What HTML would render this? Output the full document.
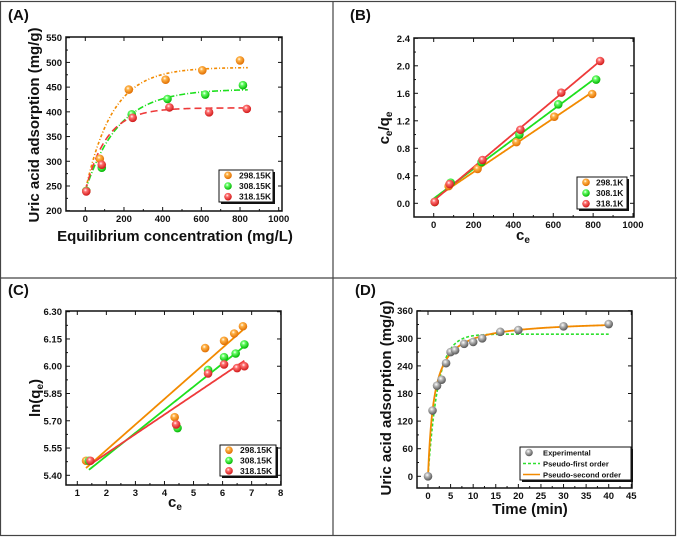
<!DOCTYPE html>
<html><head><meta charset="utf-8"><style>
body{margin:0;background:#fff;}
svg{display:block;font-family:"Liberation Sans",Arial,sans-serif;}
</style></head><body>
<svg id="fig" width="677" height="537" viewBox="0 0 677 537" xmlns="http://www.w3.org/2000/svg">
<defs>
<radialGradient id="gO" cx="0.4" cy="0.35" r="0.65"><stop offset="0" stop-color="#fff"/><stop offset="0.3" stop-color="#ffb347"/><stop offset="1" stop-color="#e06d00"/></radialGradient>
<radialGradient id="gG" cx="0.4" cy="0.35" r="0.65"><stop offset="0" stop-color="#fff"/><stop offset="0.3" stop-color="#66ff66"/><stop offset="1" stop-color="#00b400"/></radialGradient>
<radialGradient id="gR" cx="0.4" cy="0.35" r="0.65"><stop offset="0" stop-color="#fff"/><stop offset="0.3" stop-color="#ff7070"/><stop offset="1" stop-color="#d01818"/></radialGradient>
<radialGradient id="gS" cx="0.4" cy="0.35" r="0.65"><stop offset="0" stop-color="#fff"/><stop offset="0.35" stop-color="#b8b8b8"/><stop offset="1" stop-color="#555"/></radialGradient>
</defs>
<rect x="0.5" y="1.5" width="675" height="534" fill="none" stroke="#444" stroke-width="1.2"/>
<line x1="333" y1="1" x2="333" y2="536" stroke="#444" stroke-width="1.2"/>
<line x1="0" y1="278" x2="677" y2="278" stroke="#444" stroke-width="1.2"/>
</svg>
<script>
// Panel A data
const aX_o=[5,75,225,415,605,800], aY_o=[240,305,445,465,484,504];
const aX_g=[5,85,240,425,620,815], aY_g=[240,287,395,426,435,454];
const aX_r=[5,85,245,435,640,835], aY_r=[239,293,388,409,399,406];
const aFitQmax=[490,446,408], aFitTau=[140,170,110], aFitQ0=[240,240,240];
const aXTicks=[0,200,400,600,800,1000], aYTicks=[200,250,300,350,400,450,500,550];
const aLegend=["298.15K","308.15K","318.15K"];
// Panel B data
const bX_o=[5,75,220,415,605,795], bY_o=[0.02,0.25,0.50,0.89,1.26,1.59];
const bX_g=[5,85,240,430,625,815], bY_g=[0.02,0.30,0.60,1.00,1.44,1.80];
const bX_r=[5,80,245,435,640,835], bY_r=[0.02,0.28,0.63,1.07,1.61,2.07];
const bXTicks=[0,200,400,600,800,1000], bYTicks=[0.0,0.4,0.8,1.2,1.6,2.0,2.4];
const bLegend=["298.1K","308.1K","318.1K"];
// Panel C data
const cX_o=[1.3,4.35,5.4,6.05,6.4,6.7], cY_o=[5.48,5.72,6.10,6.14,6.18,6.22];
const cX_g=[1.4,4.45,5.5,6.05,6.45,6.75], cY_g=[5.48,5.66,5.98,6.05,6.07,6.12];
const cX_r=[1.45,4.4,5.5,6.05,6.5,6.75], cY_r=[5.48,5.68,5.96,6.01,5.99,6.00];
const cLineEnds_o=[5.44,6.20], cLineEnds_g=[5.43,6.11], cLineEnds_r=[5.46,6.03];
const cXTicks=[1,2,3,4,5,6,7,8], cYTicks=[5.40,5.55,5.70,5.85,6.00,6.15,6.30];
const cLegend=["298.15K","308.15K","318.15K"];
// Panel D data
const dT=[0,1,2,3,4,5,6,8,10,12,16,20,30,40];
const dQ=[0,143,197,210,246,270,274,288,292,300,314,318,326,331];
const dPFO=[309,0.45];   // qe, k1
const dPSO=[340,0.002135]; // qe, k2
const dXTicks=[0,5,10,15,20,25,30,35,40,45], dYTicks=[0,60,120,180,240,300,360];
const dLegend=["Experimental","Pseudo-first order","Pseudo-second order"];

const NS="http://www.w3.org/2000/svg";
const svg=document.getElementById('fig');
function el(tag,attrs,parent){const e=document.createElementNS(NS,tag);for(const k in attrs)e.setAttribute(k,attrs[k]);(parent||svg).appendChild(e);return e;}
function axis(p){
  const sx=v=>p.x0px+(v-p.x0v)*(p.x1px-p.x0px)/(p.x1v-p.x0v);
  const sy=v=>p.y0px-(v-p.y0v)*(p.y0px-p.y1px)/(p.y1v-p.y0v);
  return {sx,sy};
}
function drawFrame(p,ax,xt,yt,fmtX,fmtY,name){
  const g=el('g',{});
  
  
  const b=el('rect',{x:p.L,y:p.T,width:p.R-p.L,height:p.B-p.T,fill:'none',stroke:'#111','stroke-width':1.5},g);
  
  
  xt.forEach((v,i)=>{const x=ax.sx(v);
    el('line',{x1:x,y1:p.B,x2:x,y2:p.B-4,stroke:'#111','stroke-width':1},g);
    el('line',{x1:x,y1:p.T,x2:x,y2:p.T+4,stroke:'#111','stroke-width':1},g);
    if(i<xt.length-1){const xm=ax.sx((v+xt[i+1])/2);el('line',{x1:xm,y1:p.B,x2:xm,y2:p.B-2,stroke:'#111'},g);}
    const t=el('text',{x:x,y:p.B+11,'text-anchor':'middle','font-size':9.5,'font-weight':'bold',fill:'#111'},g);
    t.textContent=fmtX(v);
    
    
  });
  yt.forEach((v,i)=>{const y=ax.sy(v);
    el('line',{x1:p.L,y1:y,x2:p.L+4,y2:y,stroke:'#111','stroke-width':1},g);
    el('line',{x1:p.R,y1:y,x2:p.R-4,y2:y,stroke:'#111','stroke-width':1},g);
    if(i<yt.length-1){const ym=ax.sy((v+yt[i+1])/2);el('line',{x1:p.L,y1:ym,x2:p.L+2,y2:ym,stroke:'#111'},g);}
    const t=el('text',{x:p.L-4,y:y+3.5,'text-anchor':'end','font-size':9.5,'font-weight':'bold',fill:'#111'},g);
    t.textContent=fmtY(v);
    
    
  });
}
function pts(xs,ys,ax,fill,name,r){
  xs.forEach((x,i)=>{const c=el('circle',{cx:ax.sx(x),cy:ax.sy(ys[i]),r:r||4.3,fill:fill});
    
    });
}
function curve(f,x0,x1,ax,stroke,dash,name,w){
  let d='';for(let i=0;i<=200;i++){const x=x0+(x1-x0)*i/200;d+=(i?'L':'M')+ax.sx(x).toFixed(2)+','+ax.sy(f(x)).toFixed(2);}
  const p=el('path',{d:d,fill:'none',stroke:stroke,'stroke-width':w||1.6,'stroke-dasharray':dash||'none'});
  
  
}
function fit(xs,ys){const n=xs.length;let sx=0,sy=0,sxx=0,sxy=0;for(let i=0;i<n;i++){sx+=xs[i];sy+=ys[i];sxx+=xs[i]*xs[i];sxy+=xs[i]*ys[i];}
  const m=(n*sxy-sx*sy)/(n*sxx-sx*sx);return [m,(sy-m*sx)/n];}
function text(x,y,s,size,name,opts){const o=Object.assign({x:x,y:y,'font-size':size,'font-weight':'bold',fill:'#111'},opts||{});
  const t=el('text',o);t.innerHTML=s;
  
  return t;}
function legend(x,y,w,h,items,name,fs){
  const g=el('g',{});
  
  
  el('rect',{x:x+2,y:y+2,width:w,height:h,fill:'#111'},g);
  el('rect',{x:x,y:y,width:w,height:h,fill:'#fff',stroke:'#111','stroke-width':1},g);
  const step=h/items.length;
  items.forEach((it,i)=>{const cy=y+step*(i+0.5);
    if(it.type==='pt'){el('circle',{cx:x+9,cy:cy,r:3.8,fill:it.fill},g);}
    else{el('line',{x1:x+3,y1:cy,x2:x+20,y2:cy,stroke:it.stroke,'stroke-width':1.6,'stroke-dasharray':it.dash||'none'},g);}
    const t=el('text',{x:x+it.tx,y:cy+3,'font-size':fs||8.5,'font-weight':'bold',fill:'#111'},g);t.textContent=it.label;
    
    
  });
}

// ---------- Panel A ----------
const pA={L:66,R:282,T:37,B:211,x0v:0,x0px:85.3,x1v:1000,x1px:278.7,y0v:200,y0px:210.7,y1v:550,y1px:37.7};
const axA=axis(pA);
drawFrame(pA,axA,aXTicks,aYTicks,v=>v,v=>v,'panel-a');
const colsA=['#f28a00','#1ee01e','#ee3a3a'];
const dashA=['3,2,1,2','6,2,1,2','7,4'];
for(let k=0;k<3;k++){curve(x=>aFitQ0[k]+(aFitQmax[k]-aFitQ0[k])*(1-Math.exp(-x/aFitTau[k])),0,840,axA,colsA[k],dashA[k],'panel-a-fit-'+k);}
pts(aX_o,aY_o,axA,'url(#gO)','panel-a-point-298');
pts(aX_g,aY_g,axA,'url(#gG)','panel-a-point-308');
pts(aX_r,aY_r,axA,'url(#gR)','panel-a-point-318');
legend(219,170,54,32,[{type:'pt',fill:'url(#gO)',label:aLegend[0],tx:20},{type:'pt',fill:'url(#gG)',label:aLegend[1],tx:20},{type:'pt',fill:'url(#gR)',label:aLegend[2],tx:20}],'panel-a-legend');
text(8,20,'(A)',15,'panel-a-label');
text(175,241,'Equilibrium concentration (mg/L)',15,'panel-a-x-title',{'text-anchor':'middle'});
text(0,0,'Uric acid adsorption (mg/g)',15,'panel-a-y-title',{'text-anchor':'middle',transform:'translate(39,125) rotate(-90)'});

// ---------- Panel B ----------
const pB={L:414,R:634,T:38,B:217,x0v:0,x0px:433.7,x1v:1000,x1px:633,y0v:0,y0px:203.3,y1v:2.4,y1px:38.3};
const axB=axis(pB);
drawFrame(pB,axB,bXTicks,bYTicks,v=>v,v=>v.toFixed(1),'panel-b');
[[bX_o,bY_o],[bX_g,bY_g],[bX_r,bY_r]].forEach((s,k)=>{const [m,c]=fit(s[0],s[1]);curve(x=>m*x+c,0,s[0][s[0].length-1],axB,colsA[k],null,'panel-b-fit-'+k,1.8);});
pts(bX_o,bY_o,axB,'url(#gO)','panel-b-point-298');
pts(bX_g,bY_g,axB,'url(#gG)','panel-b-point-308');
pts(bX_r,bY_r,axB,'url(#gR)','panel-b-point-318');
legend(577,177,50,32,[{type:'pt',fill:'url(#gO)',label:bLegend[0],tx:19},{type:'pt',fill:'url(#gG)',label:bLegend[1],tx:19},{type:'pt',fill:'url(#gR)',label:bLegend[2],tx:19}],'panel-b-legend');
text(350,20,'(B)',15,'panel-b-label');
text(523,240,'c<tspan font-size="10" dy="3">e</tspan>',15,'panel-b-x-title',{'text-anchor':'middle'});
text(0,0,'c<tspan font-size="10" dy="3">e</tspan><tspan dy="-3">/q</tspan><tspan font-size="10" dy="3">e</tspan>',15,'panel-b-y-title',{'text-anchor':'middle',transform:'translate(389,128) rotate(-90)'});

// ---------- Panel C ----------
const pC={L:66,R:281,T:311,B:485,x0v:1,x0px:77.3,x1v:8,x1px:280.7,y0v:5.40,y0px:475.3,y1v:6.30,y1px:311.7};
const axC=axis(pC);
drawFrame(pC,axC,cXTicks,cYTicks,v=>v,v=>v.toFixed(2),'panel-c');
[[cX_o,cLineEnds_o],[cX_g,cLineEnds_g],[cX_r,cLineEnds_r]].forEach((s,k)=>{const xa=s[0][0],xb=s[0][s[0].length-1],ya=s[1][0],yb=s[1][1];curve(x=>ya+(yb-ya)*(x-xa)/(xb-xa),xa,xb,axC,colsA[k],null,'panel-c-fit-'+k,1.8);});
pts(cX_o,cY_o,axC,'url(#gO)','panel-c-point-298');
pts(cX_g,cY_g,axC,'url(#gG)','panel-c-point-308');
pts(cX_r,cY_r,axC,'url(#gR)','panel-c-point-318');
legend(220,445,56,31,[{type:'pt',fill:'url(#gO)',label:cLegend[0],tx:20},{type:'pt',fill:'url(#gG)',label:cLegend[1],tx:20},{type:'pt',fill:'url(#gR)',label:cLegend[2],tx:20}],'panel-c-legend');
text(8,295,'(C)',15,'panel-c-label');
text(175,507,'c<tspan font-size="10" dy="3">e</tspan>',15,'panel-c-x-title',{'text-anchor':'middle'});
text(0,0,'ln(q<tspan font-size="10" dy="3">e</tspan><tspan dy="-3">)</tspan>',15,'panel-c-y-title',{'text-anchor':'middle',transform:'translate(40,398) rotate(-90)'});

// ---------- Panel D ----------
const pD={L:417,R:632,T:311,B:488,x0v:0,x0px:428,x1v:45,x1px:631.3,y0v:0,y0px:476.3,y1v:360,y1px:310.7};
const axD=axis(pD);
drawFrame(pD,axD,dXTicks,dYTicks,v=>v,v=>v,'panel-d');
curve(t=>dPFO[0]*(1-Math.exp(-dPFO[1]*t)),0,40,axD,'#2ee02e','3,2','panel-d-pseudo-first-order',1.6);
curve(t=>dPSO[1]*dPSO[0]*dPSO[0]*t/(1+dPSO[1]*dPSO[0]*t),0,40,axD,'#f28a00',null,'panel-d-pseudo-second-order',1.8);
pts(dT,dQ,axD,'url(#gS)','panel-d-experimental-point',4.3);
legend(520,447,111,33,[{type:'pt',fill:'url(#gS)',label:dLegend[0],tx:23},{type:'ln',stroke:'#2ee02e',dash:'3,2',label:dLegend[1],tx:23},{type:'ln',stroke:'#f28a00',label:dLegend[2],tx:23}],'panel-d-legend',7.6);
text(355,295,'(D)',15,'panel-d-label');
text(530,514,'Time (min)',15,'panel-d-x-title',{'text-anchor':'middle'});
text(0,0,'Uric acid adsorption (mg/g)',15,'panel-d-y-title',{'text-anchor':'middle',transform:'translate(391,398) rotate(-90)'});
</script>
</body></html>
